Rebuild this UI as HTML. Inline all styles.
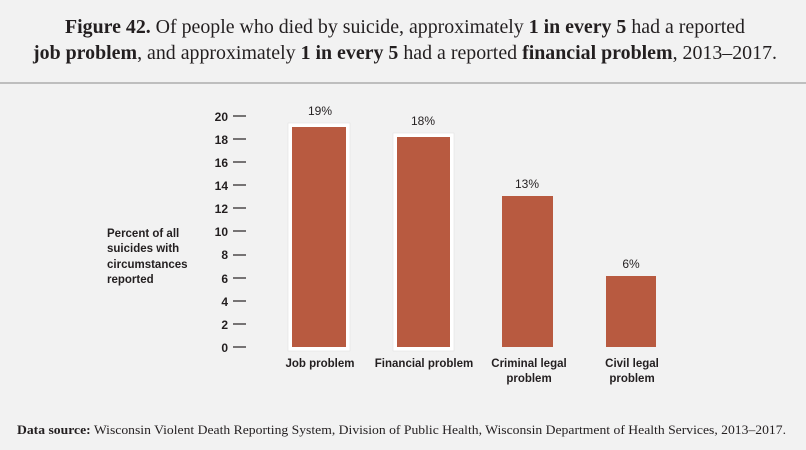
<!DOCTYPE html>
<html><head><meta charset="utf-8"><style>
html,body{margin:0;padding:0;background:#f2f2f2;}
svg{display:block;}
.t{font-family:"Liberation Serif",serif;font-size:20px;fill:#231f20;}
.s{font-family:"Liberation Sans",sans-serif;fill:#231f20;}
</style></head><body>
<svg width="806" height="450" viewBox="0 0 806 450" xmlns="http://www.w3.org/2000/svg">
<rect width="806" height="450" fill="#f2f2f2"/>
<text class="t" x="65" y="33" textLength="680" lengthAdjust="spacingAndGlyphs"><tspan font-weight="bold">Figure 42.</tspan> Of people who died by suicide, approximately <tspan font-weight="bold">1 in every 5</tspan> had a reported</text>
<text class="t" x="33" y="59" textLength="744" lengthAdjust="spacingAndGlyphs"><tspan font-weight="bold">job problem</tspan>, and approximately <tspan font-weight="bold">1 in every 5</tspan> had a reported <tspan font-weight="bold">financial problem</tspan>, 2013–2017.</text>
<line x1="0" y1="83" x2="806" y2="83" stroke="#8a8a8a" stroke-width="1"/>
<g class="s" font-size="11.5" font-weight="bold">
<text x="107" y="237">Percent of all</text>
<text x="107" y="252">suicides with</text>
<text x="107" y="268">circumstances</text>
<text x="107" y="283">reported</text>
</g>
<g class="s" font-size="12" font-weight="bold" text-anchor="end">
<text x="228" y="121">20</text><text x="228" y="144">18</text><text x="228" y="167">16</text>
<text x="228" y="190">14</text><text x="228" y="213">12</text><text x="228" y="236">10</text>
<text x="228" y="259">8</text><text x="228" y="283">6</text><text x="228" y="306">4</text>
<text x="228" y="329">2</text><text x="228" y="352">0</text>
</g>
<g stroke="#231f20" stroke-width="1.2">
<line x1="233" x2="246" y1="116" y2="116"/><line x1="233" x2="246" y1="139" y2="139"/>
<line x1="233" x2="246" y1="162" y2="162"/><line x1="233" x2="246" y1="185" y2="185"/>
<line x1="233" x2="246" y1="208" y2="208"/><line x1="233" x2="246" y1="231" y2="231"/>
<line x1="233" x2="246" y1="255" y2="255"/><line x1="233" x2="246" y1="278" y2="278"/>
<line x1="233" x2="246" y1="301" y2="301"/><line x1="233" x2="246" y1="324" y2="324"/>
<line x1="233" x2="246" y1="347" y2="347"/>
</g>
<rect x="288" y="123" width="62" height="228" fill="#fff" stroke="#ddd" stroke-width="0.5"/>
<rect x="393" y="133" width="61" height="218" fill="#fff" stroke="#ddd" stroke-width="0.5"/>
<rect x="292" y="127" width="54" height="220" fill="#b85a40"/>
<rect x="397" y="137" width="53" height="210" fill="#b85a40"/>
<rect x="502" y="196" width="51" height="151" fill="#b85a40"/>
<rect x="606" y="276" width="50" height="71" fill="#b85a40"/>
<g class="s" font-size="12" text-anchor="middle">
<text x="320" y="115">19%</text><text x="423" y="125">18%</text>
<text x="527" y="188">13%</text><text x="631" y="268">6%</text>
</g>
<g class="s" font-size="11.5" font-weight="bold" text-anchor="middle">
<text x="320" y="367">Job problem</text>
<text x="424" y="367">Financial problem</text>
<text x="529" y="367">Criminal legal</text><text x="529" y="382">problem</text>
<text x="632" y="367">Civil legal</text><text x="632" y="382">problem</text>
</g>
<text x="17" y="434" font-family="Liberation Serif,serif" font-size="13" fill="#231f20" textLength="769" lengthAdjust="spacingAndGlyphs"><tspan font-weight="bold">Data source:</tspan> Wisconsin Violent Death Reporting System, Division of Public Health, Wisconsin Department of Health Services, 2013–2017.</text>
</svg>
</body></html>
